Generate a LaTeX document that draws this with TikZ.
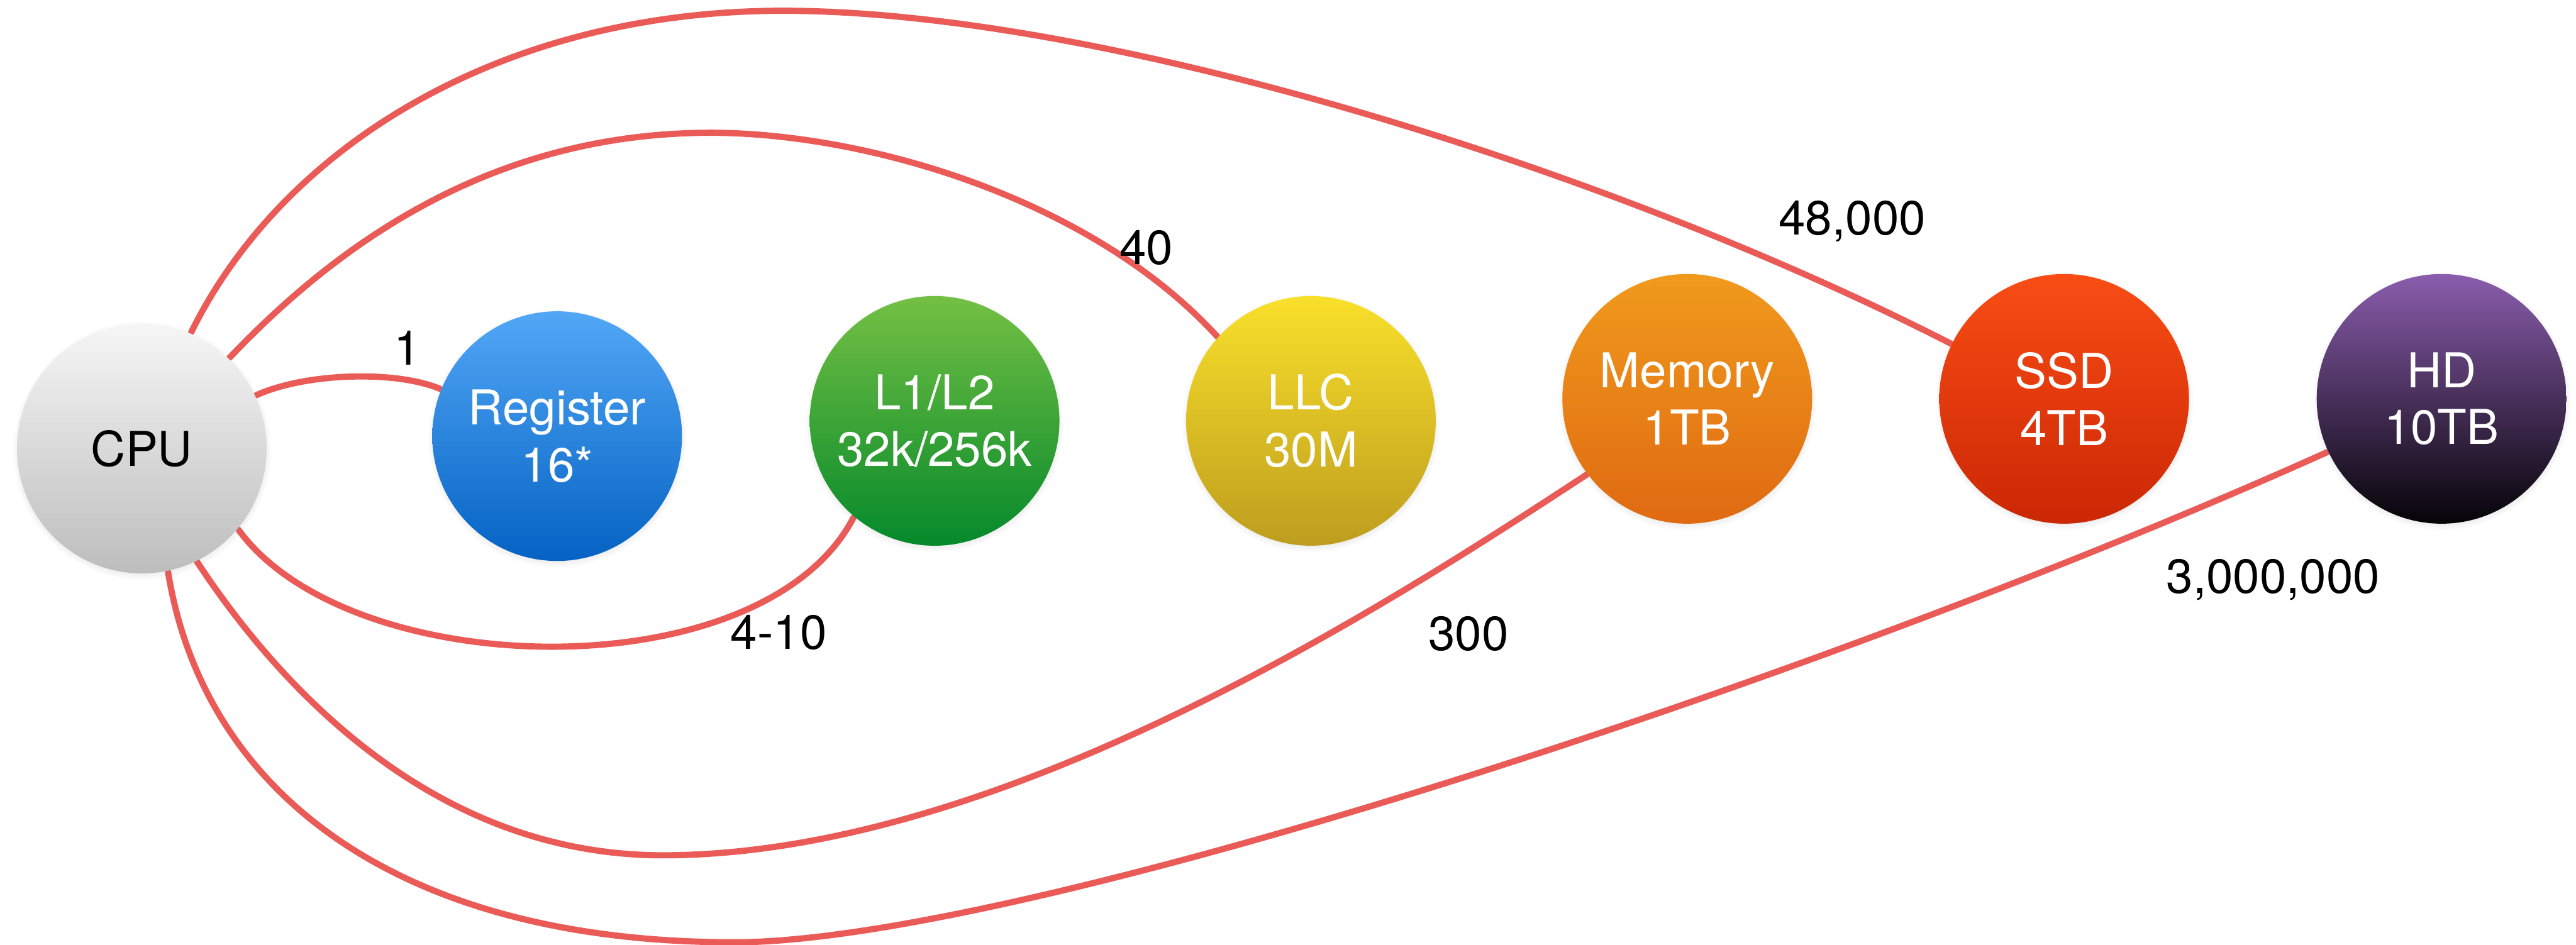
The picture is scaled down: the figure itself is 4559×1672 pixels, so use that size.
\documentclass[tikz,border=0pt]{standalone}
\usepackage{fontspec}
\setmainfont{TeX Gyre Heros}
\usetikzlibrary{shadows,backgrounds}
\definecolor{linered}{HTML}{EA5B57}
\definecolor{cpuT}{HTML}{F6F6F6}\definecolor{cpuB}{HTML}{BDBDBD}
\definecolor{regT}{HTML}{52A7F6}\definecolor{regB}{HTML}{0562C3}
\definecolor{lT}{HTML}{74C044}\definecolor{lB}{HTML}{05892B}
\definecolor{llcT}{HTML}{F9E02A}\definecolor{llcB}{HTML}{BE9D1F}
\definecolor{memT}{HTML}{F09A1C}\definecolor{memB}{HTML}{E06A12}
\definecolor{ssdT}{HTML}{F94D15}\definecolor{ssdB}{HTML}{CB2705}
\definecolor{hdT}{HTML}{8A5DAD}\definecolor{hdB}{HTML}{050307}
\begin{document}
\begin{tikzpicture}[x=0.1pt,y=-0.1pt,
  bubble/.style={circle, minimum size=44.2pt, inner sep=0pt, align=center,
    font=\fontsize{8.5pt}{10.1pt}\selectfont, text=white,
    circular drop shadow={shadow scale=1.035, shadow xshift=0pt, shadow yshift=-0.35pt, opacity=0.35}},
  wire/.style={draw=linered, line width=1.1pt, line cap=round, line join=round},
  lbl/.style={font=\fontsize{8.5pt}{10.1pt}\selectfont, text=black, inner sep=0pt}]
\useasboundingbox (0,0) rectangle (4559,1672);

\node[bubble, top color=cpuT, bottom color=cpuB, text=black] (cpu) at (251,794) {CPU};
\node[bubble, top color=regT, bottom color=regB] (reg) at (986,772) {Register\\16*};
\node[bubble, top color=lT, bottom color=lB] (l12) at (1654,745) {L1/L2\\32k/256k};
\node[bubble, top color=llcT, bottom color=llcB] (llc) at (2320,745) {LLC\\30M};
\node[bubble, top color=memT, bottom color=memB] (mem) at (2986,706) {Memory\\1TB};
\node[bubble, top color=ssdT, bottom color=ssdB] (ssd) at (3653,706) {SSD\\4TB};
\node[bubble, top color=hdT, bottom color=hdB] (hd) at (4321,706) {HD\\10TB};

\coordinate (top3) at (1258,235);
\coordinate (top4) at (1386,19);
\coordinate (bot5) at (1173,1514);
\coordinate (bot6) at (1300,1668);

\begin{scope}[on background layer]
\fill[white] (0,0) rectangle (4559,1672);
\draw[wire] (cpu.25) .. controls (540,660) and (700,655) .. (reg.158);
\draw[wire] (cpu.-40) .. controls (620,1210) and (1350,1225) .. (l12.-130);
\draw[wire] (cpu.46) .. controls (605,424) and (878,235) .. (top3)
                     .. controls (1530,235) and (1930,350) .. (llc.138);
\draw[wire] (cpu.67) .. controls (500,260) and (886,19) .. (top4)
                     .. controls (1950,19) and (2850,300) .. (ssd.154);
\draw[wire] (cpu.-64) .. controls (500,1224) and (773,1514) .. (bot5)
                      .. controls (1773,1514) and (2460,1068) .. (mem.-143);
\draw[wire] (cpu.-78) .. controls (360,1400) and (700,1668) .. (bot6)
                      .. controls (1800,1668) and (3219,1205) .. (hd.-155);
\end{scope}

\node[lbl] (t1) at (721,616) {1};
\node[lbl] (t2) at (1378,1120) {4-10};
\node[lbl] (t3) at (2029,439) {40};
\node[lbl] (t4) at (3278,392) {48,000};
\node[lbl] (t5) at (2599,1122) {300};
\node[lbl] (t6) at (4023,1026) {3,000,000};
\end{tikzpicture}
\end{document}
